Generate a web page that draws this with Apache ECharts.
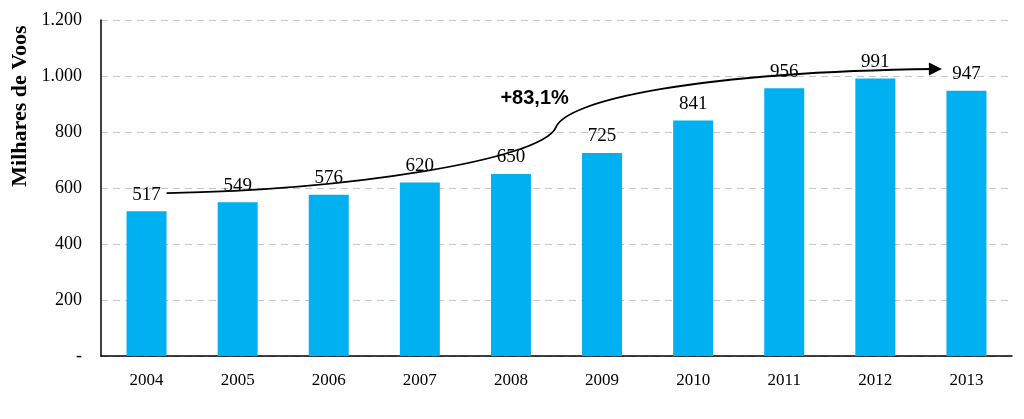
<!DOCTYPE html>
<html>
<head>
<meta charset="utf-8">
<script src="https://cdn.jsdelivr.net/npm/echarts@6/dist/echarts.min.js"></script>
<style>html,body{margin:0;padding:0;background:#fff;}#c{width:1024px;height:419px;}</style>
</head>
<body>
<div id="c"></div>
<script>
const categories = ['2004','2005','2006','2007','2008','2009','2010','2011','2012','2013'];
const flights = [517, 549, 576, 620, 650, 725, 841, 956, 991, 947];
const yTicks = { min: 0, max: 1200, interval: 200 };
const axisName = 'Milhares de Voos';
const growthLabel = '+83,1%';
// annotation curve in data space: [categoryIndex, value]
const curveSeg1 = [[0.22, 582], [2.22, 593], [4.31, 700], [4.49, 814]];
const curveSeg2 = [[4.49, 814], [4.59, 914], [6.07, 1014], [8.73, 1025]];
const growthLabelPos = [4.26, 918];

const chart = echarts.init(document.getElementById('c'), null, { renderer: 'canvas' });
const serif = '"Liberation Serif", "Times New Roman", serif';

function fmt(v) {
  if (v === 0) return '-';
  return String(v).replace(/\B(?=(\d{3})+(?!\d))/g, '.');
}

chart.setOption({
  animation: false,
  grid: { left: 101, right: 12, top: 20, bottom: 63, containLabel: false },
  xAxis: {
    type: 'category',
    data: categories,
    axisLine: { lineStyle: { color: '#000', width: 1.5 } },
    axisTick: { show: false },
    axisLabel: { color: '#000', fontFamily: serif, fontSize: 17, margin: 16 }
  },
  yAxis: {
    type: 'value',
    min: yTicks.min, max: yTicks.max, interval: yTicks.interval,
    axisLine: { show: true, lineStyle: { color: '#000', width: 1.5 } },
    axisTick: { show: false },
    axisLabel: { color: '#000', fontFamily: serif, fontSize: 18, margin: 19, formatter: fmt },
    splitLine: { lineStyle: { color: '#c4c4c4', type: [7, 5], width: 1 } }
  },
  series: [{
    type: 'bar',
    data: flights,
    barWidth: 40,
    itemStyle: { color: '#00B0F0' },
    label: { show: true, position: 'top', distance: 7, color: '#000', fontFamily: serif, fontSize: 19 }
  }]
});

function toPx(p) {
  const x0 = chart.convertToPixel({ xAxisIndex: 0 }, 0);
  const x1 = chart.convertToPixel({ xAxisIndex: 0 }, 1);
  const y = chart.convertToPixel({ yAxisIndex: 0 }, p[1]);
  return [x0 + (x1 - x0) * p[0], y];
}
const s1 = curveSeg1.map(toPx);
const s2 = curveSeg2.map(toPx);
const end = s2[3];
const lp = toPx(growthLabelPos);

chart.setOption({
  graphic: [
    {
      type: 'text', x: 20, y: 106, rotation: Math.PI / 2,
      style: { text: axisName, fill: '#000', font: 'bold 22px ' + serif, align: 'center', verticalAlign: 'middle' }
    },
    {
      type: 'bezierCurve',
      shape: { x1: s1[0][0], y1: s1[0][1], cpx1: s1[1][0], cpy1: s1[1][1], cpx2: s1[2][0], cpy2: s1[2][1], x2: s1[3][0], y2: s1[3][1] },
      style: { stroke: '#000', lineWidth: 1.8, fill: null }
    },
    {
      type: 'bezierCurve',
      shape: { x1: s2[0][0], y1: s2[0][1], cpx1: s2[1][0], cpy1: s2[1][1], cpx2: s2[2][0], cpy2: s2[2][1], x2: end[0] - 8, y2: end[1] },
      style: { stroke: '#000', lineWidth: 1.8, fill: null }
    },
    {
      type: 'polygon',
      shape: { points: [[end[0] - 13, end[1] - 6.5], [end[0] - 13, end[1] + 6.5], [end[0], end[1]]] },
      style: { fill: '#000' }
    },
    {
      type: 'text', x: lp[0], y: lp[1],
      style: { text: growthLabel, fill: '#000', font: 'bold 20px "Liberation Sans", Arial, sans-serif', align: 'center', verticalAlign: 'middle' }
    }
  ]
});
</script>
</body>
</html>
